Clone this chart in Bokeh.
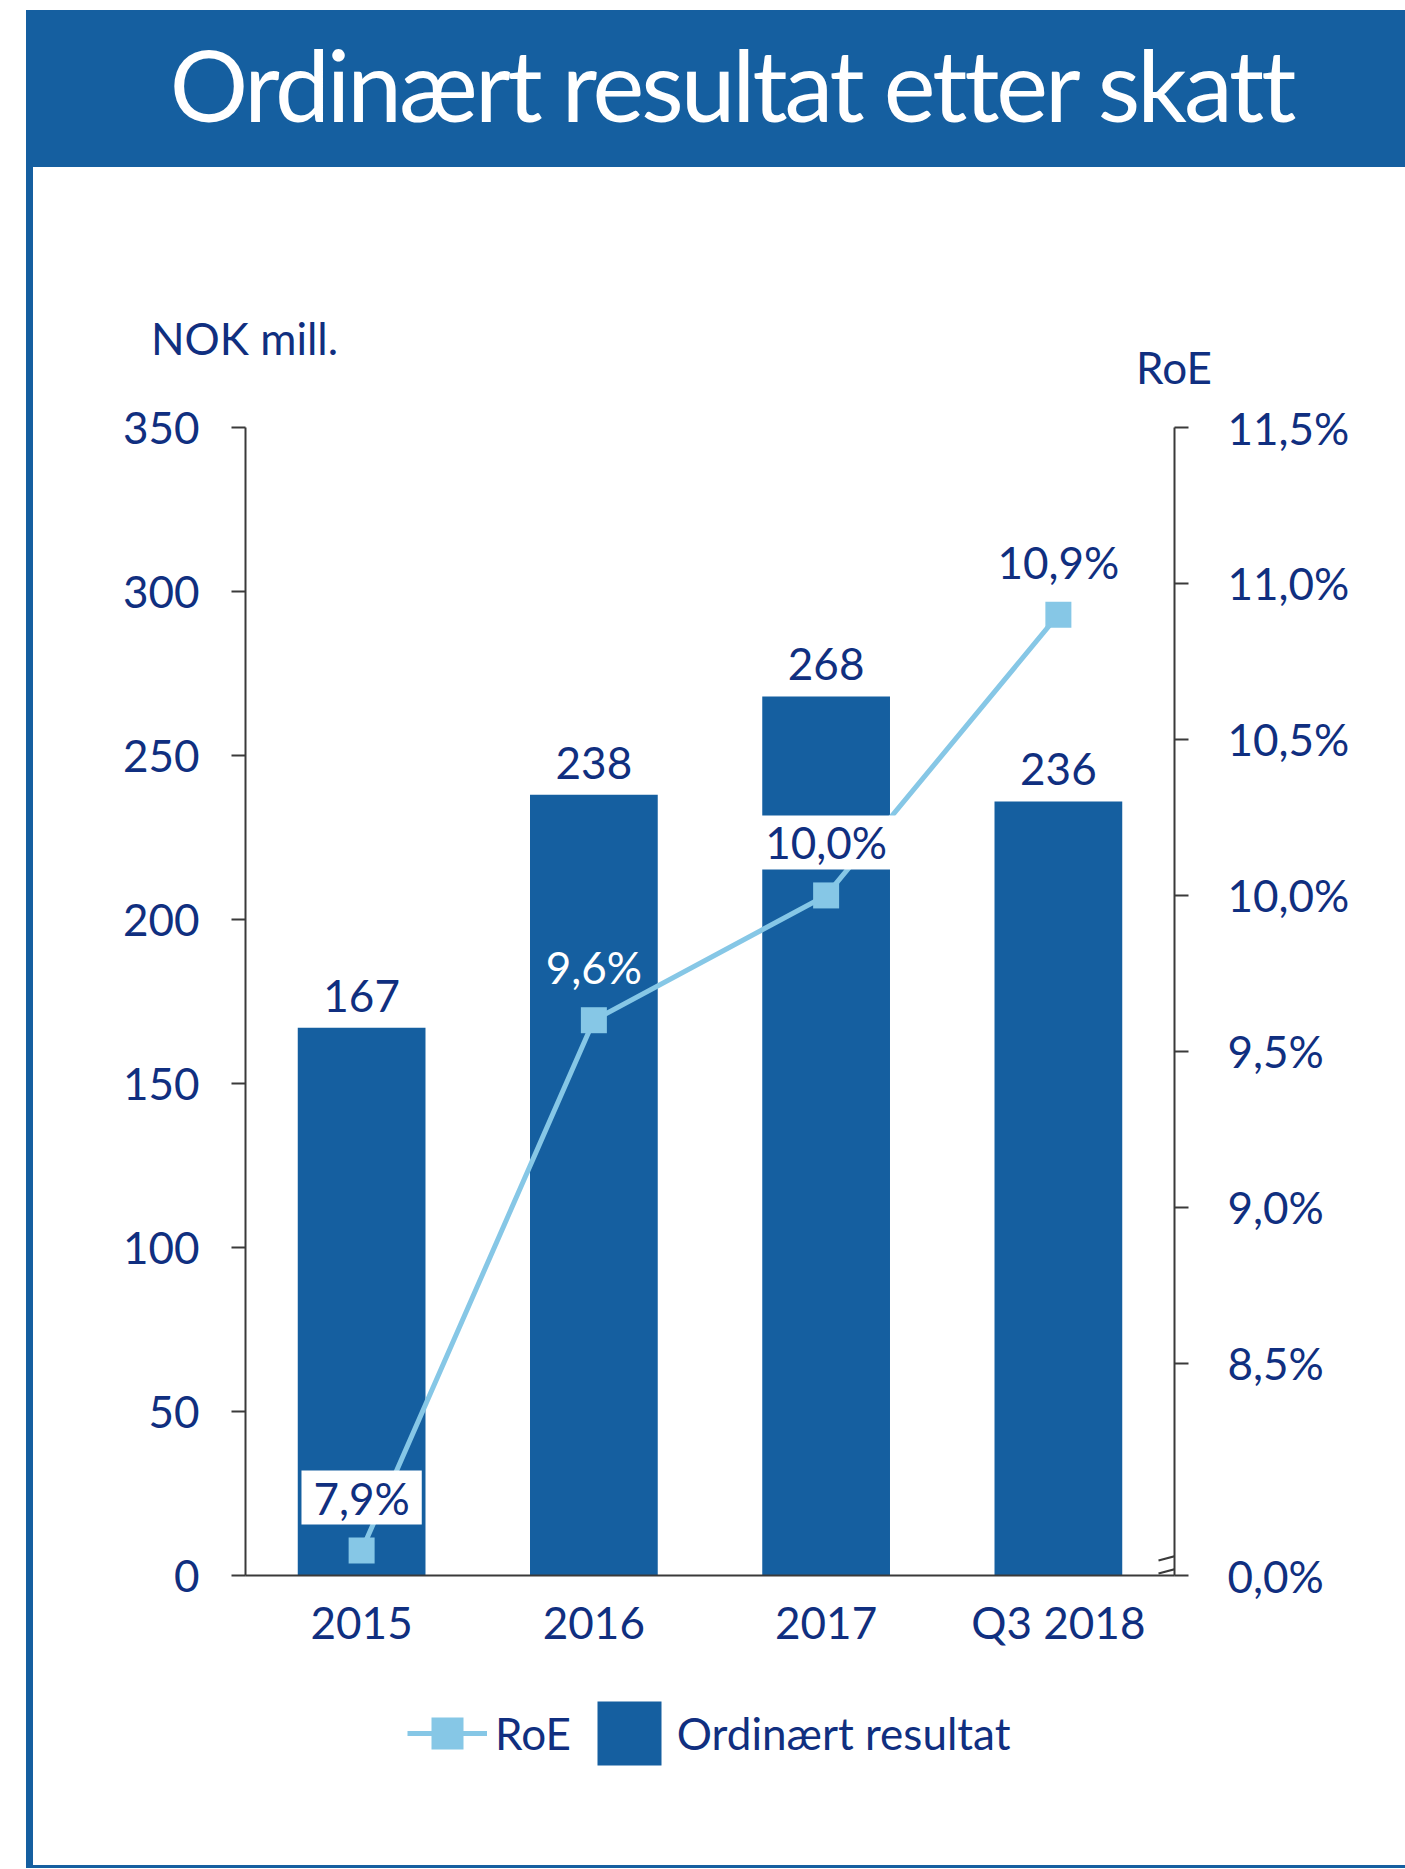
from bokeh.plotting import figure
from bokeh.layouts import column, row
from bokeh.models import (Range1d, FactorRange, LinearAxis, FixedTicker, Div, Spacer,
                          Legend, LegendItem, ColumnDataSource, CDSView, IndexFilter)
from bokeh.core.properties import value
from bokeh.embed import file_html
from bokeh.resources import INLINE

# ---------------- data ----------------
categories = ["2015", "2016", "2017", "Q3 2018"]
resultat = [167, 238, 268, 236]
resultat_labels = ["167", "238", "268", "236"]
roe = [7.9, 9.6, 10.0, 10.9]
roe_labels = ["7,9%", "9,6%", "10,0%", "10,9%"]
left_ticks = [0, 50, 100, 150, 200, 250, 300, 350]
right_ticks = [8.5, 9.0, 9.5, 10.0, 10.5, 11.0, 11.5]
right_tick_labels = ["8,5%", "9,0%", "9,5%", "10,0%", "10,5%", "11,0%", "11,5%"]
roe_axis_bottom = 7.82          # axis is broken: bottom of the RoE axis is labelled 0,0%
roe_axis_bottom_label = "0,0%"
roe_axis_top = 11.5

title_text = "Ordinært resultat etter skatt"
left_axis_title = "NOK mill."
right_axis_title = "RoE"
legend_labels = ["RoE", "Ordinært resultat"]

# ---------------- style / layout (page px) ----------------
PAGE_W = 1405
BANNER_X, BANNER_Y, BANNER_H = 26, 10, 157
BORDER_W = 7
CONTENT_X = BANNER_X + BORDER_W            # 33
CONTENT_W = PAGE_W - CONTENT_X             # 1372
TITLES_H = 233                              # 167..400
FIG_TOP = BANNER_Y + BANNER_H + TITLES_H    # 400
FIG_H = 1260                                # 400..1660
LEG_H = 205                                 # 1660..1865
BOTTOM_BORDER_H = 3
FL, FR, FT, FB = 245, 1174, 427, 1575       # frame edges in page px

BANNER = "#155fa0"
BAR = "#155fa0"
LINE = "#86c7e6"
NAVY = "#102f80"
AXIS = "#3a3a3a"
FONT = "Lato"
FS = "44px"
boxed_idx = [0, 2]
plain_navy_idx = [3]
plain_white_idx = [1]


def sx(px):  # page px -> synthetic categorical x coordinate
    return (px - FL) / (FR - FL) * len(categories)


src = ColumnDataSource(dict(cat=categories, res=resultat, res_lbl=resultat_labels,
                            roe=roe, roe_lbl=roe_labels))

p = figure(width=CONTENT_W, height=FIG_H, x_range=FactorRange(*categories, range_padding=0),
           y_range=Range1d(0, 350), output_backend="svg", toolbar_location=None,
           min_border_left=FL - CONTENT_X, min_border_right=PAGE_W - FR,
           min_border_top=FT - FIG_TOP, min_border_bottom=FIG_TOP + FIG_H - FB, margin=0)
p.outline_line_color = None
p.grid.visible = False
p.background_fill_color = "white"
p.border_fill_color = "white"

p.extra_y_ranges = {"roe": Range1d(roe_axis_bottom, roe_axis_top), "sy": Range1d(-FB, -FT)}

# left axis
ya = p.yaxis[0]
ya.ticker = FixedTicker(ticks=left_ticks)
ya.axis_line_color = AXIS
ya.axis_line_width = 2
ya.major_tick_line_color = AXIS
ya.major_tick_line_width = 2
ya.major_tick_in = 0
ya.major_tick_out = 14
ya.minor_tick_line_color = None
ya.major_label_standoff = 32
ya.major_label_text_font = FONT
ya.major_label_text_font_size = FS
ya.major_label_text_color = NAVY

# right axis
overrides = {roe_axis_bottom: roe_axis_bottom_label}
for t, l in zip(right_ticks, right_tick_labels):
    overrides[t] = l
ra = LinearAxis(y_range_name="roe", ticker=FixedTicker(ticks=[roe_axis_bottom] + right_ticks),
                major_label_overrides=overrides)
ra.axis_line_color = AXIS
ra.axis_line_width = 2
ra.major_tick_line_color = AXIS
ra.major_tick_line_width = 2
ra.major_tick_in = 0
ra.major_tick_out = 14
ra.minor_tick_line_color = None
ra.major_label_standoff = 39
ra.major_label_text_font = FONT
ra.major_label_text_font_size = FS
ra.major_label_text_color = NAVY
p.add_layout(ra, "right")

# bottom axis
xa = p.xaxis[0]
xa.axis_line_color = AXIS
xa.axis_line_width = 2
xa.major_tick_line_color = None
xa.major_tick_out = 0
xa.major_tick_in = 0
xa.major_label_standoff = 20
xa.major_label_text_font = FONT
xa.major_label_text_font_size = FS
xa.major_label_text_color = NAVY

# bars
p.vbar(x="cat", top="res", width=0.55, source=src, fill_color=BAR, line_color=None)
p.text(x="cat", y="res", text="res_lbl", source=src, text_align="center", text_baseline="middle",
       y_offset=-32, text_font=value(FONT), text_font_size=FS, text_color=NAVY)

# RoE line
p.line(x="cat", y="roe", source=src, y_range_name="roe", line_color=LINE, line_width=5)
p.scatter(x="cat", y="roe", source=src, y_range_name="roe", marker="square", size=26,
          fill_color=LINE, line_color=None)

p.text(x="cat", y="roe", text="roe_lbl", source=src, view=CDSView(filter=IndexFilter(boxed_idx)),
       y_range_name="roe", text_align="center", text_baseline="middle", y_offset=-53,
       text_font=value(FONT), text_font_size=FS, text_color=NAVY,
       background_fill_color="white", padding=dict(left=12, right=12, top=1, bottom=1))
p.text(x="cat", y="roe", text="roe_lbl", source=src, view=CDSView(filter=IndexFilter(plain_navy_idx)),
       y_range_name="roe", text_align="center", text_baseline="middle", y_offset=-53,
       text_font=value(FONT), text_font_size=FS, text_color=NAVY)
p.text(x="cat", y="roe", text="roe_lbl", source=src, view=CDSView(filter=IndexFilter(plain_white_idx)),
       y_range_name="roe", text_align="center", text_baseline="middle", y_offset=-53,
       text_font=value(FONT), text_font_size=FS, text_color="white")

# axis break marks on the right axis
brk_x0 = [sx(1158), sx(1158)]
brk_x1 = [sx(1188), sx(1188)]
brk_y0 = [-1560, -1573]
brk_y1 = [-1552, -1565]
p.segment(x0=brk_x0, y0=brk_y0, x1=brk_x1, y1=brk_y1, y_range_name="sy",
          line_color=AXIS, line_width=2)

# ---------------- legend (own small figure, below the chart) ----------------
# The same series are drawn here too, but the y range lies far above them, so only the
# legend of this strip is visible.
pl = figure(width=CONTENT_W, height=LEG_H, x_range=FactorRange(*categories, range_padding=0),
            y_range=Range1d(1000, 1001), output_backend="svg", toolbar_location=None,
            min_border=0, margin=0, x_axis_location=None, y_axis_location=None)
pl.outline_line_color = None
pl.grid.visible = False
leg_line = pl.line(x="cat", y="roe", source=src, line_color=LINE, line_width=5)
leg_mark = pl.scatter(x="cat", y="roe", source=src, marker="square", size=26,
                      fill_color=LINE, line_color=None)
leg_bar = pl.vbar(x="cat", top="res", source=src, width=0.55, fill_color=BAR, line_color=None)
legend = Legend(items=[LegendItem(label=legend_labels[0], renderers=[leg_line, leg_mark]),
                       LegendItem(label=legend_labels[1], renderers=[leg_bar])],
                orientation="horizontal", location=(407 - FL, 92),
                glyph_width=80, glyph_height=80,
                label_text_font=FONT, label_text_font_size=FS, label_text_color=NAVY,
                spacing=18, label_standoff=8, padding=0, margin=0, border_line_color=None,
                background_fill_alpha=0)
pl.add_layout(legend, "center")

# ---------------- page decorations (HTML) ----------------
banner = Div(
    text=(f'<div style="width:{PAGE_W - BANNER_X}px;height:{BANNER_H}px;line-height:149px;'
          f'background:{BANNER};color:white;font-family:Lato;font-size:98px;letter-spacing:-3px;'
          f'text-align:center;white-space:nowrap;padding-left:32px;box-sizing:border-box;">'
          f'{title_text}</div>'),
    width=PAGE_W - BANNER_X, height=BANNER_H, margin=0, styles={"background-color": BANNER})

txt_style = f"font-family:Lato;font-size:44px;line-height:52px;color:{NAVY};white-space:nowrap;"
nok_div = Div(text=f'<div style="padding-top:145px;{txt_style}">{left_axis_title}</div>',
              width=300, height=TITLES_H, margin=0)
roe_div = Div(text=f'<div style="padding-top:174px;{txt_style}">{right_axis_title}</div>',
              width=PAGE_W - 1136, height=TITLES_H, margin=0)
titles_row = row(Spacer(width=151 - CONTENT_X, height=TITLES_H, margin=0), nok_div,
                 Spacer(width=1136 - 151 - 300, height=TITLES_H, margin=0), roe_div,
                 spacing=0, margin=0)

left_border = Div(text="", width=BORDER_W, height=TITLES_H + FIG_H + LEG_H, margin=0,
                  styles={"background-color": BANNER})
bottom_border = Div(text="", width=PAGE_W - BANNER_X, height=BOTTOM_BORDER_H, margin=0,
                    styles={"background-color": BANNER})

root = column(
    Spacer(width=PAGE_W, height=BANNER_Y, margin=0),
    row(Spacer(width=BANNER_X, height=BANNER_H, margin=0), banner, spacing=0, margin=0),
    row(Spacer(width=BANNER_X, height=TITLES_H + FIG_H + LEG_H, margin=0), left_border,
        column(titles_row, p, pl, spacing=0, margin=0), spacing=0, margin=0),
    row(Spacer(width=BANNER_X, height=BOTTOM_BORDER_H, margin=0), bottom_border,
        spacing=0, margin=0),
    spacing=0, margin=0,
)

open("out.html", "w").write(file_html(root, INLINE))
